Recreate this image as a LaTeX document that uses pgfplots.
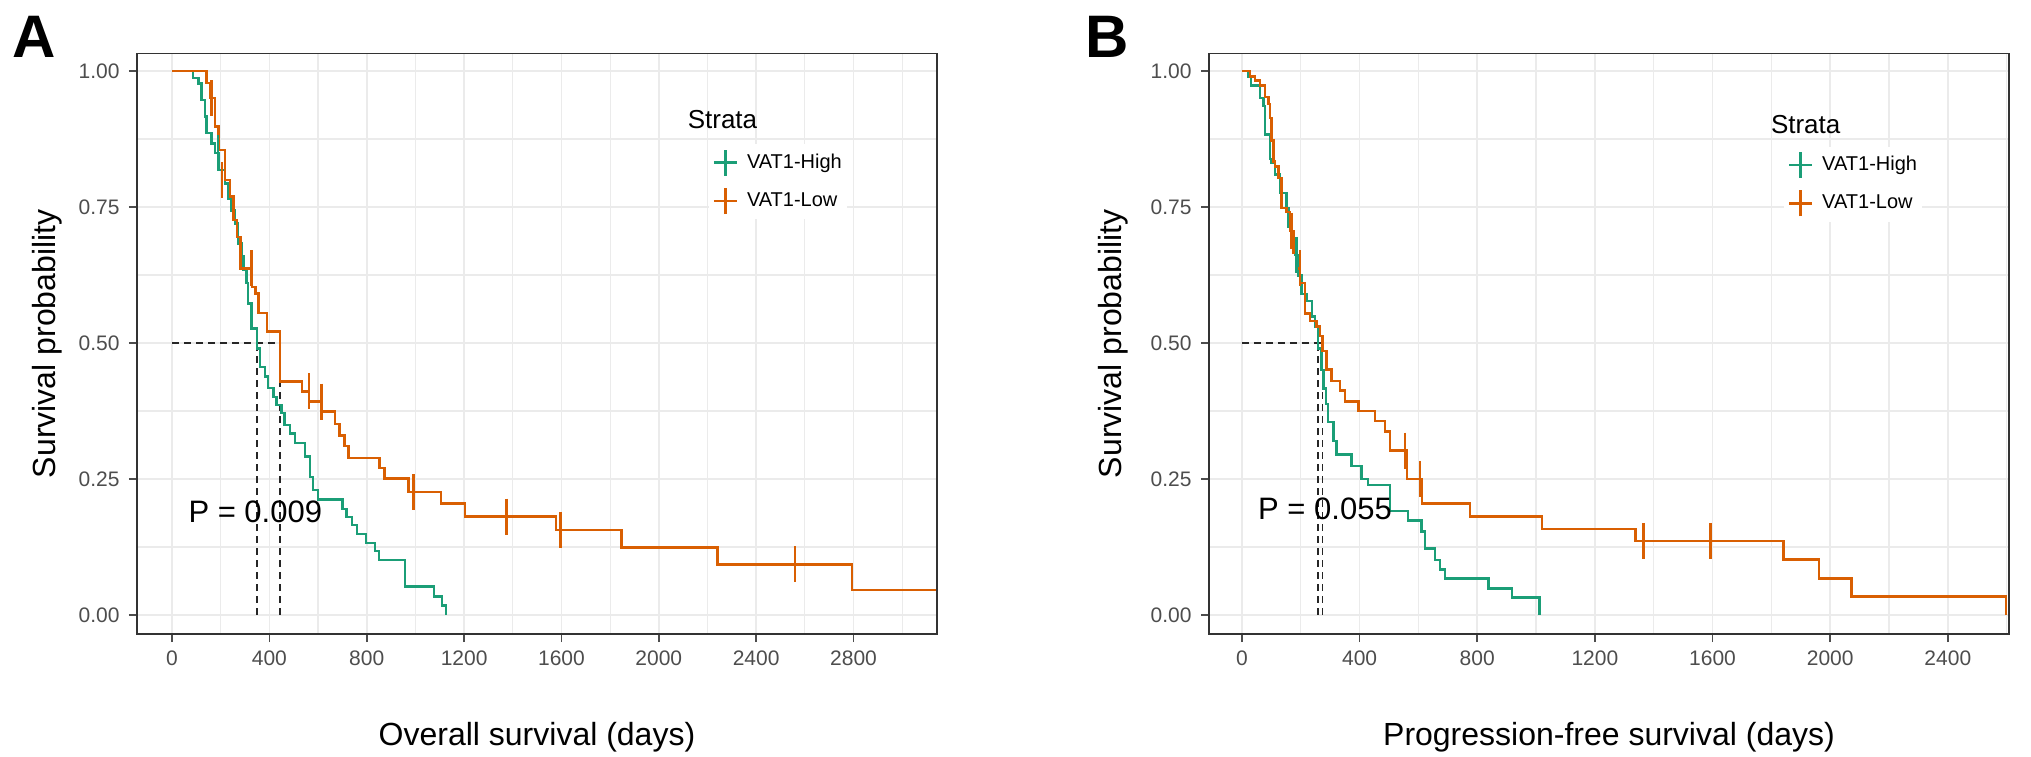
\documentclass[border=0pt]{standalone}
\usepackage{pgfplots}
\usepackage{pgfplotstable}
\pgfplotsset{compat=1.18}
\usepackage{fontspec}
\setmainfont{Liberation Sans}
\definecolor{cHigh}{HTML}{1B9E77}
\definecolor{cLow}{HTML}{D95F02}
\definecolor{gridc}{HTML}{EBEBEB}
\definecolor{tickc}{HTML}{4D4D4D}

% ---------- Panel A: overall survival ----------
\pgfplotstableread{
t S
0 1
87 0.987
108 0.977
122 0.947
135 0.916
142 0.886
163 0.867
177 0.849
190 0.818
217 0.793
231 0.766
245 0.744
258 0.720
272 0.683
286 0.659
293 0.634
306 0.610
313 0.573
327 0.527
350 0.490
361 0.456
381 0.438
395 0.417
416 0.401
429 0.386
450 0.371
463 0.349
484 0.334
505 0.316
546 0.291
566 0.254
580 0.230
600 0.212
700 0.195
716 0.180
740 0.165
759 0.149
797 0.132
834 0.118
850 0.101
957 0.052
1077 0.034
1110 0.017
1126 0.000
}\AHigh
\pgfplotstableread{
t S
188 0.849
}\AHighCens
\pgfplotstableread{
t S
0 1
142 0.978
156 0.950
177 0.898
191 0.855
218 0.800
239 0.769
253 0.726
267 0.695
281 0.637
329 0.603
342 0.591
356 0.555
390 0.521
443 0.429
533 0.411
563 0.392
614 0.374
670 0.351
688 0.330
708 0.311
724 0.289
853 0.270
873 0.251
971 0.226
1105 0.205
1204 0.181
1578 0.156
1847 0.124
2242 0.093
2793 0.046
3140 0.046
}\ALow
\pgfplotstableread{
t S
163 0.950
205 0.800
327 0.637
563 0.411
614 0.392
992 0.226
1373 0.181
1597 0.156
2560 0.093
}\ALowCens

% ---------- Panel B: progression-free survival ----------
\pgfplotstableread{
t S
0 1
20 0.990
31 0.973
61 0.950
73 0.936
78 0.883
95 0.838
100 0.831
112 0.810
129 0.776
152 0.748
158 0.713
170 0.680
180 0.662
192 0.624
203 0.590
220 0.577
238 0.549
249 0.530
258 0.490
270 0.450
277 0.416
285 0.388
293 0.355
311 0.320
322 0.295
372 0.274
406 0.250
429 0.239
503 0.191
565 0.174
610 0.153
622 0.122
656 0.101
673 0.084
690 0.067
839 0.049
918 0.032
1012 0.000
}\BHigh
\pgfplotstableread{
t S
185 0.662
}\BHighCens
\pgfplotstableread{
t S
0 1
27 0.990
45 0.983
61 0.973
78 0.952
90 0.939
95 0.914
101 0.872
108 0.834
112 0.824
124 0.803
135 0.748
152 0.741
163 0.706
175 0.665
186 0.637
197 0.610
214 0.554
231 0.540
254 0.530
265 0.513
274 0.485
288 0.451
305 0.430
333 0.413
350 0.392
396 0.375
453 0.357
487 0.337
504 0.302
561 0.250
612 0.205
776 0.181
1020 0.158
1338 0.136
1841 0.102
1962 0.067
2072 0.034
2598 0.000
}\BLow
\pgfplotstableread{
t S
169 0.706
197 0.637
555 0.302
606 0.250
1366 0.136
1593 0.136
}\BLowCens

\pgfplotsset{
  km/.style={
    scale only axis, width=400pt, height=290.2pt,
    ymin=-0.035, ymax=1.032,
    ytick={0,0.25,0.5,0.75,1},
    minor ytick={0.125,0.375,0.625,0.875},
    grid=both,
    major grid style={draw=gridc, line width=0.8pt},
    minor grid style={draw=gridc, line width=0.6pt},
    axis line style={draw=black!80, line width=0.9pt},
    tick align=outside, tick pos=left,
    major tick length=4pt, minor tick length=0pt,
    every tick/.style={draw=tickc, line width=0.8pt},
    tick label style={font=\fontsize{10.5}{12}\selectfont, text=tickc},
    /pgf/number format/assume math mode=true,
    /pgf/number format/1000 sep={},
    yticklabel style={/pgf/number format/.cd, fixed, fixed zerofill, precision=2, /tikz/.cd, anchor=east, inner sep=0pt, xshift=-4.5pt},
    xticklabel style={anchor=north, inner sep=0pt, yshift=-4pt},
    ylabel={Survival probability},
    ylabel style={anchor=center, font=\fontsize{16}{19}\selectfont},
    xlabel style={at={(axis description cs:0.5,-0.178)}, anchor=center, inner sep=0pt, font=\fontsize{16}{19}\selectfont},
    legend image code/.code={
      \draw[#1] (0pt,0pt) -- (11.5pt,0pt);
      \draw[#1] (5.75pt,-6.5pt) -- (5.75pt,6.5pt);
    },
    legend cell align=left,
    legend style={draw=none, fill=white, inner sep=2pt, row sep=5pt,
      font=\fontsize{10}{12}\selectfont,
      nodes={inner sep=0.5pt},
      /tikz/every odd column/.append style={column sep=4pt}},
  },
  curve/.style={line width=1.25pt, const plot, forget plot},
  cens/.style={only marks, mark=|, mark size=9pt, mark options={line width=1.3pt}, forget plot},
  med/.style={black!85, line width=0.8pt, dash pattern=on 3.5pt off 2.5pt, forget plot},
}

\begin{document}
\begin{tikzpicture}
\useasboundingbox (0,0) rectangle (1015.5pt,378pt);

% ===== Panel A =====
\begin{axis}[km, at={(68.5pt,61pt)}, anchor=south west,
  xmin=-144, xmax=3143,
  xtick={0,400,...,2800}, minor xtick={200,600,...,3000},
  xlabel={Overall survival (days)},
  ylabel style={at={(axis description cs:-0.1125,0.5)}},
  legend style={at={(axis description cs:0.714,0.779)}, anchor=west}]
\addplot[med] coordinates {(0,0.5) (443,0.5)};
\addplot[med] coordinates {(350,0) (350,0.5)};
\addplot[med] coordinates {(443,0) (443,0.5)};
\addplot[cHigh, curve] table {\AHigh};
\addplot[cLow, curve] table {\ALow};
\addplot[cHigh, cens] table {\AHighCens};
\addplot[cLow, cens] table {\ALowCens};
\addlegendimage{cHigh, line width=1.2pt}
\addlegendentry{VAT1-High}
\addlegendimage{cLow, line width=1.2pt}
\addlegendentry{VAT1-Low}
\node[anchor=west, inner sep=0pt, font=\fontsize{13}{15}\selectfont] at (axis description cs:0.688,0.886) {Strata};
\node[anchor=west, inner sep=0pt, font=\fontsize{15.5}{18}\selectfont] at (axis cs:66,0.19) {P = 0.009};
\end{axis}

% ===== Panel B =====
\begin{axis}[km, at={(604.5pt,61pt)}, anchor=south west,
  xmin=-112, xmax=2608,
  xtick={0,400,...,2400}, minor xtick={200,600,...,2600},
  xlabel={Progression-free survival (days)},
  ylabel style={at={(axis description cs:-0.12,0.5)}},
  legend style={at={(axis description cs:0.718,0.775)}, anchor=west}]
\addplot[med] coordinates {(0,0.5) (274,0.5)};
\addplot[med] coordinates {(258,0) (258,0.5)};
\addplot[med] coordinates {(274,0) (274,0.5)};
\addplot[cHigh, curve] table {\BHigh};
\addplot[cLow, curve] table {\BLow};
\addplot[cHigh, cens] table {\BHighCens};
\addplot[cLow, cens] table {\BLowCens};
\addlegendimage{cHigh, line width=1.2pt}
\addlegendentry{VAT1-High}
\addlegendimage{cLow, line width=1.2pt}
\addlegendentry{VAT1-Low}
\node[anchor=west, inner sep=0pt, font=\fontsize{13}{15}\selectfont] at (axis description cs:0.702,0.878) {Strata};
\node[anchor=west, inner sep=0pt, font=\fontsize{15.5}{18}\selectfont] at (axis cs:54,0.195) {P = 0.055};
\end{axis}

\node[anchor=north west, inner sep=0pt, font=\bfseries\fontsize{30}{33}\selectfont] at (6pt,370pt) {A};
\node[anchor=north west, inner sep=0pt, font=\bfseries\fontsize{30}{33}\selectfont] at (542.5pt,370pt) {B};
\end{tikzpicture}
\end{document}
